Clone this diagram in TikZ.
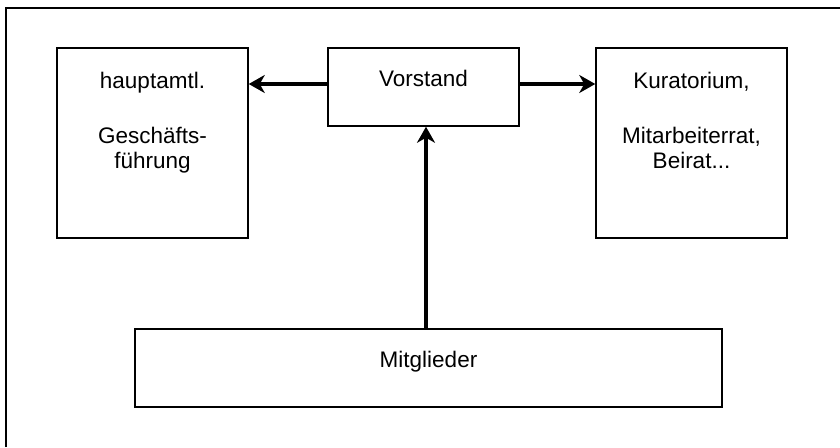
\documentclass[tikz,border=0pt]{standalone}
\usepackage{fontspec}
\setmainfont{Liberation Sans}
\usetikzlibrary{arrows.meta}

\tikzset{
  box/.style={draw, line width=1.5pt, rectangle, inner sep=0pt},
  label/.style={anchor=north, inner sep=0pt, align=center,
    font=\fontsize{22.5}{25}\selectfont},
  arr/.style={line width=3.5pt, -{Stealth[length=16pt, width=18pt, inset=5pt]}},
  frame/.style={line width=2.5pt}
}

\begin{document}
\begin{tikzpicture}[x=1pt, y=-1pt]
  \useasboundingbox (0,0) rectangle (840,447);

  % outer frame, running off the right and bottom edges
  \coordinate (fb) at (6,447);
  \coordinate (ftl) at (6,8);
  \coordinate (ftr) at (840,8);
  \draw[frame] (fb) -- (ftl) -- (ftr);

  % boxes
  \node[box, minimum width=191pt, minimum height=190pt] (G) at (152.5,143) {};
  \node[box, minimum width=191pt, minimum height=78pt]  (V) at (423.5,87)  {};
  \node[box, minimum width=191pt, minimum height=190pt] (K) at (691.5,143) {};
  \node[box, minimum width=587pt, minimum height=78pt]  (M) at (428.5,368) {};

  % texts
  \node[label] (Gt) at (152.5,72) {hauptamtl.\\[30pt]Geschäfts-\\führung};
  \node[label] (Vt) at (423.5,70) {Vorstand};
  \node[label] (Kt) at (691.5,72) {Kuratorium,\\[30pt]Mitarbeiterrat,\\Beirat...};
  \node[label] (Mt) at (428.5,351) {Mitglieder};

  % connectors
  \draw[arr] ([yshift=3pt]V.west) -- ([yshift=3pt]V.west -| G.east);
  \draw[arr] ([yshift=3pt]V.east) -- ([yshift=3pt]V.east -| K.west);
  \draw[arr] ([xshift=2.5pt]V.south |- M.north) -- ([xshift=2.5pt]V.south);
\end{tikzpicture}
\end{document}
